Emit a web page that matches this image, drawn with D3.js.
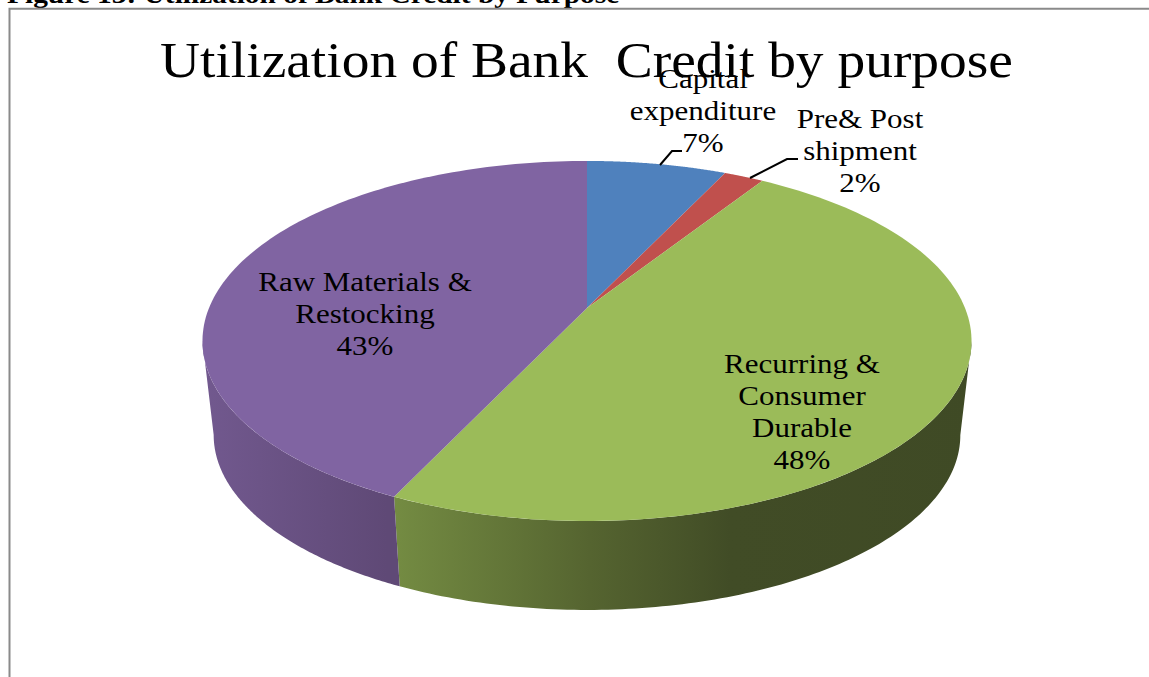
<!DOCTYPE html>
<html>
<head>
<meta charset="utf-8">
<title>Utilization of Bank Credit by purpose</title>
<script src="https://cdnjs.cloudflare.com/ajax/libs/d3/7.9.0/d3.min.js"></script>
<style>
  html, body { margin: 0; padding: 0; background: #fff; overflow: hidden; }
  svg { display: block; }
  text { font-family: "Liberation Serif", serif; fill: #000; }
</style>
</head>
<body>
<svg id="chart" width="1149" height="677"></svg>
<script>
// Share of bank credit by purpose, in percent, clockwise from twelve o'clock
const purposes = ["Capital expenditure", "Pre& Post shipment", "Recurring & Consumer Durable", "Raw Materials & Restocking"];
const shares = [7, 2, 48, 43];
const topColors = ["#4f81bd", "#c0504d", "#9bbb59", "#8064a2"];

// Wrapped label lines for each slice
const labelLines = [
  ["Capital", "expenditure"],
  ["Pre& Post", "shipment"],
  ["Recurring &", "Consumer", "Durable"],
  ["Raw Materials &", "Restocking"]
];

const svg = d3.select("#chart");

// The serif face is narrower than the lettering wanted here, so widen it
function widen(sel, factor) {
  sel.each(function () {
    const len = this.getComputedTextLength();
    d3.select(this)
      .attr("textLength", len * factor)
      .attr("lengthAdjust", "spacingAndGlyphs");
  });
  return sel;
}

// Caption above the frame, partly cut by the top of the page
svg.append("text")
  .attr("x", 7).attr("y", 3)
  .attr("font-size", 24.5).attr("font-weight", "bold")
  .text("Figure 13: Utilization of Bank Credit by Purpose")
  .call(widen, 1.2);

// Chart frame: top and left edges only are in view
svg.append("path")
  .attr("d", "M9.5,677V8.7H1149")
  .attr("fill", "none").attr("stroke", "#8a8a8a").attr("stroke-width", 2);

// Perspective projection of the disc: far edge is foreshortened
const tilt = 0.1833;
const discTop = { x0: 587, y0: 308, a: 378, b: 174 };
const discBottom = { x0: 587, y0: 403, a: 367, b: 169 };
function project(disc, theta) {
  const u = Math.sin(theta), v = Math.cos(theta), w = 1 + tilt * v;
  return [disc.x0 + disc.a * u / w, disc.y0 - disc.b * v / w];
}
const arcPoints = (disc, from, to) =>
  d3.range(0, 121).map(i => project(disc, from + (to - from) * i / 120));

const slices = d3.pie().sort(null).value(d => d)(shares);
const line = d3.line();

// Side-wall shading runs left to right across the visible rim
const defs = svg.append("defs");
function wallGradient(id, stops) {
  const g = defs.append("linearGradient").attr("id", id)
    .attr("gradientUnits", "userSpaceOnUse")
    .attr("x1", 200).attr("x2", 980).attr("y1", 0).attr("y2", 0);
  stops.forEach(([o, c]) => g.append("stop").attr("offset", o).attr("stop-color", c));
}
wallGradient("wall-green", [[0.24, "#758d43"], [0.5, "#556430"], [0.68, "#414c26"], [1, "#3f4a25"]]);
wallGradient("wall-purple", [[0, "#72598f"], [0.24, "#5f4976"]]);
const wallFill = { 2: "url(#wall-green)", 3: "url(#wall-purple)" };

// The rim is visible between the two silhouette tangents
const rimFrom = Math.acos(-tilt);
const rimTo = 2 * Math.PI - rimFrom;
slices.forEach((s, i) => {
  const from = Math.max(s.startAngle, rimFrom), to = Math.min(s.endAngle, rimTo);
  if (to <= from) return;
  const outline = arcPoints(discTop, from, to).concat(arcPoints(discBottom, to, from));
  svg.append("path")
    .attr("d", line(outline) + "Z")
    .attr("fill", wallFill[i]);
});

// Upper face of the pie
slices.forEach((s, i) => {
  const outline = [[discTop.x0, discTop.y0]].concat(arcPoints(discTop, s.startAngle, s.endAngle));
  svg.append("path")
    .attr("d", line(outline) + "Z")
    .attr("fill", topColors[i]);
});

// Leader lines for the two small slices
const leaders = [
  [[660, 165], [672, 151], [682, 151]],
  [[750, 178], [787, 159], [798, 159]]
];
leaders.forEach(pts => {
  svg.append("path").attr("d", line(pts))
    .attr("fill", "none").attr("stroke", "#000").attr("stroke-width", 2);
});

// Slice labels: name lines followed by the percentage
const labelAnchors = [
  { x: 703, y: 88 },
  { x: 860, y: 128 },
  { x: 802, y: 373 },
  { x: 365, y: 291 }
];
const labelSize = 26.5, labelStep = 32;
labelLines.forEach((lines, i) => {
  lines.concat(shares[i] + "%").forEach((row, r) => {
    svg.append("text")
      .attr("x", labelAnchors[i].x)
      .attr("y", labelAnchors[i].y + r * labelStep)
      .attr("text-anchor", "middle")
      .attr("font-size", labelSize)
      .text(row)
      .call(widen, 1.17);
  });
});

// Chart title
svg.append("text")
  .attr("x", 586.5).attr("y", 77)
  .attr("text-anchor", "middle")
  .attr("font-size", 51)
  .style("white-space", "pre")
  .text("Utilization of Bank  Credit by purpose")
  .call(widen, 1.087);
</script>
</body>
</html>
